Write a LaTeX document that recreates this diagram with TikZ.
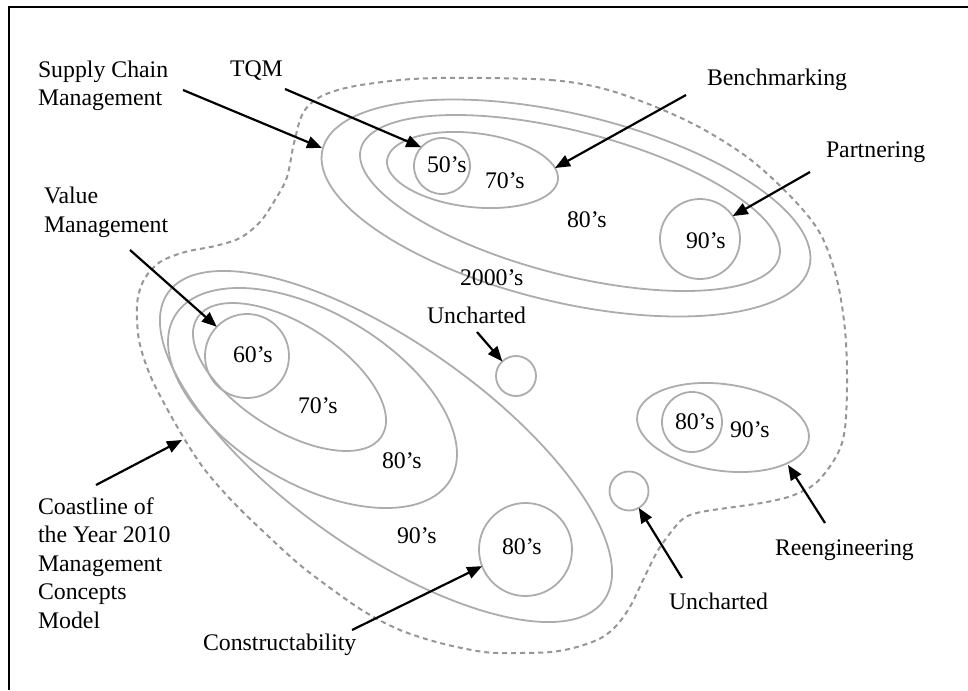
\documentclass[tikz,border=0pt]{standalone}
\usepackage{fontspec}
\setmainfont{Liberation Serif}
\usetikzlibrary{arrows.meta,shapes.geometric}
\definecolor{contour}{RGB}{172,172,172}
\definecolor{coast}{RGB}{150,150,150}
\begin{document}
\begin{tikzpicture}[x=1pt,y=-1pt,
  every node/.style={inner sep=0pt, outer sep=0pt, font=\fontsize{23.8}{28.5}\selectfont},
  lbl/.style={anchor=base west, align=left},
  era/.style={anchor=base west},
  ring/.style={circle, draw=contour, line width=1.8pt, minimum size=#1},
  oval/.style={ellipse, draw=contour, line width=1.8pt},
  pointer/.style={line width=2.2pt, -{Triangle[length=15pt,width=12pt]}},
  coastline/.style={draw=coast, line width=2pt, dash pattern=on 5pt off 4pt}]
\useasboundingbox (0,0) rectangle (968,690);

% frame (top and left edges)
\draw[line width=2pt] (9,690) -- (9,7) -- (968,7);

% coastline of the model
\draw[coastline] plot[smooth cycle, tension=0.55] coordinates {
  (484,78) (551,80) (601,88) (651,105) (701,128) (751,160) (794,200)
  (821,235) (837,280) (845,330) (847,380) (845,428) (837,455) (817,482)
  (794,495) (767,502) (734,507) (701,512) (684,518) (671,532) (657,552)
  (644,578) (631,605) (617,625) (601,638) (577,647) (551,652) (517,653)
  (484,652) (440,643) (400,630) (365,612) (333,590) (300,565) (267,535)
  (233,502) (205,470) (185,440) (165,405) (150,375) (140,345) (137,320)
  (138,297) (145,278) (160,262) (185,252) (215,246) (240,238) (260,222)
  (275,200) (287,177) (294,143) (303,113) (320,97) (350,87) (400,80) (440,78)};

% upper cluster
\node[oval, minimum width=500.8pt, minimum height=188pt, rotate=-13.5] (u2000) at (566,208) {};
\node[oval, minimum width=432.2pt, minimum height=143.4pt, rotate=-14.5] (u80) at (570,203) {};
\node[oval, minimum width=172pt, minimum height=74pt, rotate=-6.6] (u70) at (472.5,170) {};
\node[ring=56pt] (u50) at (442,166) {};
\node[ring=80pt] (u90) at (700,239) {};

% lower-left cluster
\node[oval, minimum width=533.6pt, minimum height=207pt, rotate=-35.2] (l90) at (386,446.5) {};
\node[oval, minimum width=320.6pt, minimum height=170.6pt, rotate=-30.8] (l80) at (312.5,398) {};
\node[oval, minimum width=219.2pt, minimum height=105.4pt, rotate=-32.7] (l70) at (289.5,377) {};
\node[ring=84pt] (l60) at (247,356) {};
\node[ring=93pt] (l80c) at (525.5,549.5) {};

% right cluster and uncharted spots
\node[oval, minimum width=173.2pt, minimum height=86.6pt, rotate=-8] (r90) at (723,427.5) {};
\node[ring=60pt] (r80) at (692,422) {};
\node[ring=40pt] (unA) at (516,376) {};
\node[ring=39pt] (unB) at (629,491) {};

% decade labels
\node[era] (t50)  at (427,172) {50’s};
\node[era] (t70a) at (485,188) {70’s};
\node[era] (t80a) at (567,227) {80’s};
\node[era] (t90a) at (686,248) {90’s};
\node[era] (t2k)  at (460,285) {2000’s};
\node[era] (t60)  at (233,362) {60’s};
\node[era] (t70b) at (298,413) {70’s};
\node[era] (t80b) at (382,468) {80’s};
\node[era] (t90b) at (397,543) {90’s};
\node[era] (t80c) at (502,554) {80’s};
\node[era] (t80d) at (675,429) {80’s};
\node[era] (t90d) at (730,437) {90’s};

% concept labels (multi-line ones are placed by their last baseline)
\node[lbl] (scm)   at (38,106)  {Supply Chain\\Management};
\node[lbl] (tqm)   at (230,77)  {TQM};
\node[lbl] (bench) at (707,86)  {Benchmarking};
\node[lbl] (part)  at (826,157) {Partnering};
\node[lbl] (vm)    at (44,232)  {Value\\Management};
\node[lbl] (unc1)  at (427,323) {Uncharted};
\node[lbl] (coast) at (38,628)  {Coastline of\\the Year 2010\\Management\\Concepts\\Model};
\node[lbl] (cons)  at (203,650) {Constructability};
\node[lbl] (unc2)  at (669,609) {Uncharted};
\node[lbl] (reeng) at (775,555) {Reengineering};

% arrow tails and tips
\coordinate (scmT)   at (183,90);
\coordinate (scmH)   at (322,148);
\coordinate (tqmT)   at (285,89);
\coordinate (benchT) at (686,95);
\coordinate (benchH) at (555,168);
\coordinate (partT)  at (810,172);
\coordinate (vmT)    at (130,250);
\coordinate (unc1T)  at (477,332);
\coordinate (coastT) at (96,485);
\coordinate (coastH) at (182,440);
\coordinate (consT)  at (352,630);
\coordinate (unc2T)  at (682,578);
\coordinate (reengT) at (825,523);
\coordinate (reengH) at (788,465);

\draw[pointer] (scmT) -- (scmH);
\draw[pointer] (tqmT) -- (u50.138);
\draw[pointer] (benchT) -- (benchH);
\draw[pointer] (partT) -- (u90.35);
\draw[pointer] (vmT) -- (l60.136);
\draw[pointer] (unc1T) -- (unA.133);
\draw[pointer] (coastT) -- (coastH);
\draw[pointer] (consT) -- (l80c.201);
\draw[pointer] (unc2T) -- (unB.300);
\draw[pointer] (reengT) -- (reengH);
\end{tikzpicture}
\end{document}
